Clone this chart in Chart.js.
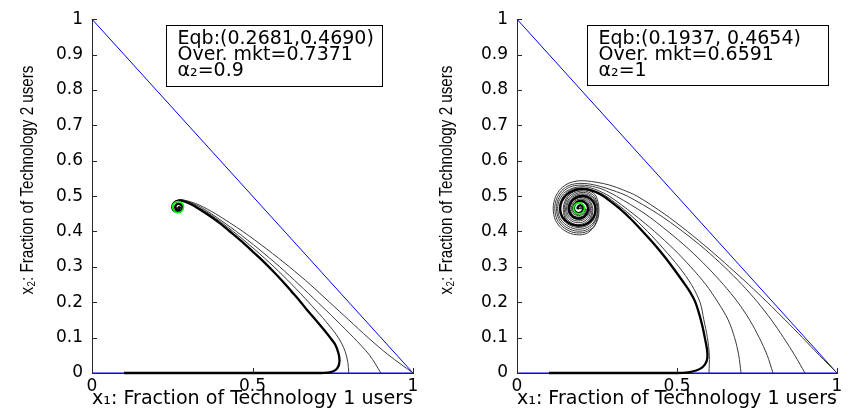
<!DOCTYPE html>
<html>
<head>
<meta charset="utf-8">
<script src="https://cdn.jsdelivr.net/npm/chart.js@4.4.1/dist/chart.umd.min.js"></script>
<style>
  body { margin: 0; background: #fff; }
  #wrap { position: relative; width: 853px; height: 416px; }
  canvas { position: absolute; top: 0; }
</style>
</head>
<body>
<div id="wrap">
  <canvas id="left" width="426" height="416" style="left:0"></canvas>
  <canvas id="right" width="427" height="416" style="left:426px"></canvas>
</div>
<script>
// simplex edges x1 + x2 = 1 and x2 = 0
const simplexEdge = [[0, 1], [1, 0], [0, 0]];

// alpha2 = 0.9 : equilibrium and trajectories
const leftEqb = [0.2681, 0.4690];
const leftMain = [[0.10,0],[0.30,0],[0.50,0],[0.70,0],[0.74,0.002],[0.758,0.008],[0.768,0.02],[0.771,0.035],[0.768,0.055],[0.758,0.08],[0.742,0.10],[0.72,0.125],[0.695,0.152],[0.67,0.178],[0.648,0.203],[0.622,0.23],[0.595,0.258],[0.565,0.287],[0.532,0.317],[0.50,0.344],[0.47,0.369],[0.435,0.396],[0.40,0.422],[0.365,0.445],[0.336,0.462],[0.31,0.476],[0.29,0.484],[0.275,0.487],[0.262,0.485],[0.253,0.478],[0.25,0.468],[0.255,0.459],[0.266,0.455],[0.277,0.459],[0.282,0.468],[0.277,0.476],[0.267,0.478],[0.26,0.472],[0.261,0.464],[0.269,0.462],[0.274,0.468],[0.268,0.469]];
const leftFrom08 = [[0.8,0],[0.797,0.03],[0.789,0.06],[0.777,0.085],[0.76,0.11],[0.74,0.133],[0.718,0.157],[0.697,0.178],[0.675,0.2],[0.623,0.25],[0.567,0.3],[0.506,0.35],[0.44,0.4],[0.366,0.45],[0.336,0.466],[0.312,0.478],[0.292,0.486],[0.276,0.489],[0.262,0.486],[0.254,0.479],[0.25,0.469],[0.255,0.459],[0.266,0.455],[0.277,0.459],[0.281,0.468],[0.275,0.475],[0.265,0.476],[0.261,0.469],[0.267,0.464],[0.268,0.469]];
const leftFrom09 = [[0.9,0],[0.865,0.05],[0.815,0.1],[0.76,0.15],[0.703,0.2],[0.645,0.25],[0.585,0.3],[0.52,0.35],[0.45,0.4],[0.372,0.45],[0.34,0.468],[0.315,0.479],[0.295,0.486],[0.279,0.489],[0.265,0.487],[0.255,0.48],[0.25,0.47],[0.254,0.46],[0.265,0.455],[0.277,0.458],[0.282,0.467],[0.277,0.475],[0.267,0.477],[0.261,0.471],[0.265,0.464],[0.268,0.469]];
const leftFrom10 = [[1,0],[0.925,0.05],[0.86,0.1],[0.8,0.15],[0.74,0.2],[0.68,0.25],[0.615,0.3],[0.545,0.35],[0.47,0.4],[0.385,0.45],[0.336,0.474],[0.31,0.483],[0.29,0.488],[0.272,0.49],[0.259,0.485],[0.251,0.475],[0.251,0.463],[0.26,0.455],[0.274,0.455],[0.282,0.464],[0.279,0.474],[0.269,0.478],[0.26,0.473],[0.261,0.465],[0.268,0.469]];

// alpha2 = 1 : equilibrium and trajectories
const rightEqb = [0.1937, 0.4654];
const rightMain = [[0.10,0],[0.30,0],[0.50,0],[0.535,0.002],[0.56,0.007],[0.578,0.015],[0.59,0.028],[0.595,0.045],[0.594,0.065],[0.588,0.095],[0.58,0.13],[0.57,0.165],[0.556,0.203],[0.54,0.23],[0.519,0.258],[0.492,0.292],[0.46,0.33],[0.425,0.368],[0.39,0.403],[0.355,0.436],[0.32,0.465],[0.288,0.488],[0.26,0.505],[0.232,0.516],[0.205,0.52],[0.178,0.516],[0.155,0.504],[0.14,0.485],[0.135,0.463],[0.142,0.441],[0.16,0.425],[0.185,0.417],[0.212,0.419],[0.233,0.432],[0.244,0.452],[0.243,0.475],[0.23,0.492],[0.21,0.5],[0.188,0.497],[0.17,0.485],[0.162,0.466],[0.168,0.448],[0.184,0.438],[0.204,0.439],[0.219,0.452],[0.221,0.47],[0.21,0.483],[0.193,0.485],[0.18,0.475],[0.179,0.46],[0.191,0.452],[0.205,0.458],[0.207,0.47],[0.196,0.474],[0.189,0.466],[0.194,0.465]];
const rightFrom06 = [[0.6,0],[0.601,0.05],[0.595,0.1],[0.584,0.15],[0.572,0.2],[0.545,0.25],[0.506,0.3],[0.459,0.35],[0.408,0.4],[0.35,0.45],[0.278,0.5],[0.245,0.514],[0.21,0.522],[0.175,0.52],[0.152,0.507],[0.137,0.487],[0.132,0.464],[0.139,0.44],[0.157,0.422],[0.183,0.412],[0.212,0.414],[0.235,0.428],[0.246,0.45],[0.245,0.475],[0.232,0.494],[0.21,0.503],[0.186,0.5],[0.167,0.487],[0.159,0.466],[0.165,0.446],[0.183,0.435],[0.205,0.436],[0.221,0.45],[0.223,0.47],[0.211,0.485],[0.193,0.487],[0.178,0.476],[0.177,0.459],[0.19,0.45],[0.206,0.456],[0.208,0.47],[0.194,0.465]];
const rightFrom07 = [[0.7,0],[0.693,0.05],[0.68,0.1],[0.66,0.15],[0.628,0.2],[0.59,0.25],[0.543,0.3],[0.49,0.35],[0.43,0.4],[0.363,0.45],[0.288,0.5],[0.25,0.517],[0.215,0.526],[0.18,0.524],[0.15,0.511],[0.133,0.49],[0.127,0.465],[0.134,0.438],[0.154,0.418],[0.182,0.407],[0.213,0.409],[0.238,0.424],[0.25,0.448],[0.249,0.475],[0.235,0.496],[0.212,0.506],[0.185,0.503],[0.164,0.489],[0.155,0.466],[0.161,0.444],[0.18,0.431],[0.205,0.432],[0.223,0.447],[0.226,0.469],[0.214,0.486],[0.194,0.489],[0.177,0.478],[0.174,0.46],[0.187,0.448],[0.205,0.452],[0.21,0.468],[0.194,0.465]];
const rightFrom08 = [[0.8,0],[0.782,0.05],[0.757,0.1],[0.727,0.15],[0.69,0.2],[0.645,0.25],[0.594,0.3],[0.537,0.35],[0.472,0.4],[0.4,0.45],[0.31,0.5],[0.265,0.52],[0.226,0.529],[0.195,0.531],[0.166,0.526],[0.143,0.512],[0.128,0.49],[0.123,0.464],[0.13,0.436],[0.15,0.414],[0.18,0.402],[0.213,0.403],[0.238,0.419],[0.25,0.445],[0.25,0.475],[0.237,0.498],[0.214,0.51],[0.185,0.507],[0.162,0.492],[0.152,0.467],[0.157,0.442],[0.177,0.427],[0.204,0.426],[0.225,0.442],[0.23,0.466],[0.218,0.486],[0.196,0.492],[0.176,0.482],[0.17,0.462],[0.182,0.447],[0.203,0.447],[0.213,0.463],[0.194,0.465]];
const rightFrom09 = [[0.9,0],[0.868,0.05],[0.833,0.1],[0.795,0.15],[0.752,0.2],[0.703,0.25],[0.648,0.3],[0.587,0.35],[0.518,0.4],[0.44,0.45],[0.345,0.5],[0.3,0.516],[0.262,0.527],[0.228,0.534],[0.196,0.536],[0.165,0.531],[0.14,0.516],[0.124,0.493],[0.118,0.465],[0.125,0.434],[0.147,0.41],[0.178,0.397],[0.213,0.398],[0.24,0.414],[0.252,0.442],[0.252,0.475],[0.24,0.501],[0.215,0.514],[0.184,0.511],[0.159,0.495],[0.148,0.468],[0.153,0.44],[0.175,0.422],[0.204,0.421],[0.228,0.438],[0.234,0.465],[0.222,0.488],[0.197,0.496],[0.174,0.485],[0.166,0.462],[0.18,0.443],[0.204,0.443],[0.216,0.462],[0.194,0.465]];
const rightFrom10 = [[1,0],[0.945,0.05],[0.892,0.1],[0.838,0.15],[0.782,0.2],[0.724,0.25],[0.663,0.3],[0.6,0.35],[0.533,0.4],[0.46,0.45],[0.375,0.5],[0.33,0.518],[0.29,0.531],[0.25,0.539],[0.215,0.543],[0.19,0.543],[0.163,0.537],[0.137,0.521],[0.12,0.497],[0.113,0.466],[0.12,0.432],[0.143,0.406],[0.176,0.392],[0.214,0.393],[0.24,0.412],[0.254,0.44],[0.255,0.475],[0.244,0.504],[0.217,0.518],[0.184,0.515],[0.157,0.498],[0.145,0.469],[0.15,0.438],[0.173,0.418],[0.204,0.417],[0.23,0.435],[0.237,0.464],[0.225,0.49],[0.198,0.499],[0.173,0.488],[0.163,0.463],[0.177,0.441],[0.204,0.44],[0.219,0.46],[0.194,0.465]];

const leftText = ['Eqb:(0.2681,0.4690)', 'Over. mkt=0.7371', 'α₂=0.9'];
const rightText = ['Eqb:(0.1937, 0.4654)', 'Over. mkt=0.6591', 'α₂=1'];
const xTitle = 'x₁: Fraction of Technology 1 users';
const yTitle = 'x₂: Fraction of Technology 2 users';

const axisColor = '#262626';
Chart.defaults.font.family = '"DejaVu Sans", sans-serif';
Chart.defaults.color = '#000';

const pts = arr => arr.map(p => ({ x: p[0], y: p[1] }));
const tickText = v => String(Math.round(v * 10) / 10);

// short tick marks pointing into the plot
const innerTicks = {
  id: 'innerTicks',
  afterDatasetsDraw(chart) {
    const { ctx, chartArea, scales: { x, y } } = chart;
    ctx.save();
    ctx.strokeStyle = axisColor;
    ctx.lineWidth = 1;
    ctx.beginPath();
    x.ticks.forEach(t => {
      const px = Math.round(x.getPixelForValue(t.value)) + 0.5;
      ctx.moveTo(px, chartArea.bottom);
      ctx.lineTo(px, chartArea.bottom - 5);
    });
    y.ticks.forEach(t => {
      const py = Math.round(y.getPixelForValue(t.value)) + 0.5;
      ctx.moveTo(chartArea.left, py);
      ctx.lineTo(chartArea.left + 5, py);
    });
    ctx.stroke();
    ctx.restore();
  }
};

// condensed, rotated y axis title
const narrowTitle = {
  id: 'narrowTitle',
  afterDraw(chart, args, opts) {
    const { ctx } = chart;
    ctx.save();
    ctx.translate(opts.cx, opts.cy);
    ctx.rotate(-Math.PI / 2);
    ctx.scale(0.8, 1);
    ctx.font = '19px "Liberation Sans", Arial, sans-serif';
    ctx.fillStyle = '#000';
    ctx.textAlign = 'center';
    ctx.textBaseline = 'middle';
    ctx.fillText(opts.text, 0, 0);
    ctx.restore();
  }
};

// boxed annotation in the upper right
const infoBox = {
  id: 'infoBox',
  afterDraw(chart, args, opts) {
    const { ctx, scales: { x, y } } = chart;
    const l = Math.round(x.getPixelForValue(opts.x0)) + 0.5;
    const r = Math.round(x.getPixelForValue(opts.x1)) + 0.5;
    const t = Math.round(y.getPixelForValue(opts.y1)) + 0.5;
    const b = Math.round(y.getPixelForValue(opts.y0)) + 0.5;
    ctx.save();
    ctx.fillStyle = '#fff';
    ctx.fillRect(l, t, r - l, b - t);
    ctx.strokeStyle = '#000';
    ctx.lineWidth = 1;
    ctx.strokeRect(l, t, r - l, b - t);
    ctx.fillStyle = '#000';
    ctx.font = '19px "DejaVu Sans"';
    ctx.textBaseline = 'alphabetic';
    opts.lines.forEach((s, i) => ctx.fillText(s, l + 11, t + 18 + i * 16));
    ctx.restore();
  }
};

function makePlot(id, eqb, main, thin, text, box, yTitleX, rightPad, yWidth) {
  const datasets = [
    { data: pts([eqb]), pointRadius: 5.5, pointBorderWidth: 1.6, pointBorderColor: '#00ff00',
      pointBackgroundColor: 'rgba(0,0,0,0)', showLine: false },
    { data: pts(main), borderColor: '#000', borderWidth: 2.3 },
  ];
  thin.forEach(t => datasets.push({ data: pts(t), borderColor: '#3a3a3a', borderWidth: 1 }));
  datasets.push({ data: pts(simplexEdge), borderColor: '#0000ff', borderWidth: 1, tension: 0 });

  datasets.forEach(d => {
    if (d.showLine === undefined) { d.showLine = true; d.pointRadius = 0; }
    if (d.tension === undefined) d.tension = 0.3;
    d.clip = 8;
  });

  return new Chart(document.getElementById(id), {
    type: 'scatter',
    data: { datasets },
    options: {
      responsive: false,
      animation: false,
      layout: { padding: { top: 13, right: rightPad, left: 0, bottom: 0 } },
      plugins: {
        legend: { display: false },
        tooltip: { enabled: false },
        infoBox: Object.assign({ lines: text }, box),
        narrowTitle: { text: yTitle, cx: yTitleX, cy: 180 }
      },
      scales: {
        x: {
          type: 'linear', min: 0, max: 1,
          afterFit: s => { s.height = 43; },
          ticks: { stepSize: 0.5, padding: 3, font: { size: 17 }, callback: tickText },
          grid: { drawOnChartArea: false, drawTicks: false },
          border: { color: axisColor, width: 1 },
          title: { display: true, text: xTitle, font: { size: 20 }, padding: { top: 0, bottom: 5 } }
        },
        y: {
          type: 'linear', min: 0, max: 1,
          afterFit: s => { s.width = yWidth; },
          ticks: { stepSize: 0.1, padding: 9, font: { size: 17 }, callback: tickText },
          grid: { drawOnChartArea: false, drawTicks: false },
          border: { color: axisColor, width: 1 }
        }
      }
    },
    plugins: [innerTicks, infoBox, narrowTitle]
  });
}

makePlot('left', leftEqb, leftMain, [leftFrom08, leftFrom09, leftFrom10], leftText,
         { x0: 0.23, x1: 0.903, y0: 0.811, y1: 0.983 }, 28, 13, 92);
makePlot('right', rightEqb, rightMain, [rightFrom06, rightFrom07, rightFrom08, rightFrom09, rightFrom10], rightText,
         { x0: 0.219, x1: 0.972, y0: 0.814, y1: 0.983 }, 21, 16, 91);
</script>
</body>
</html>
